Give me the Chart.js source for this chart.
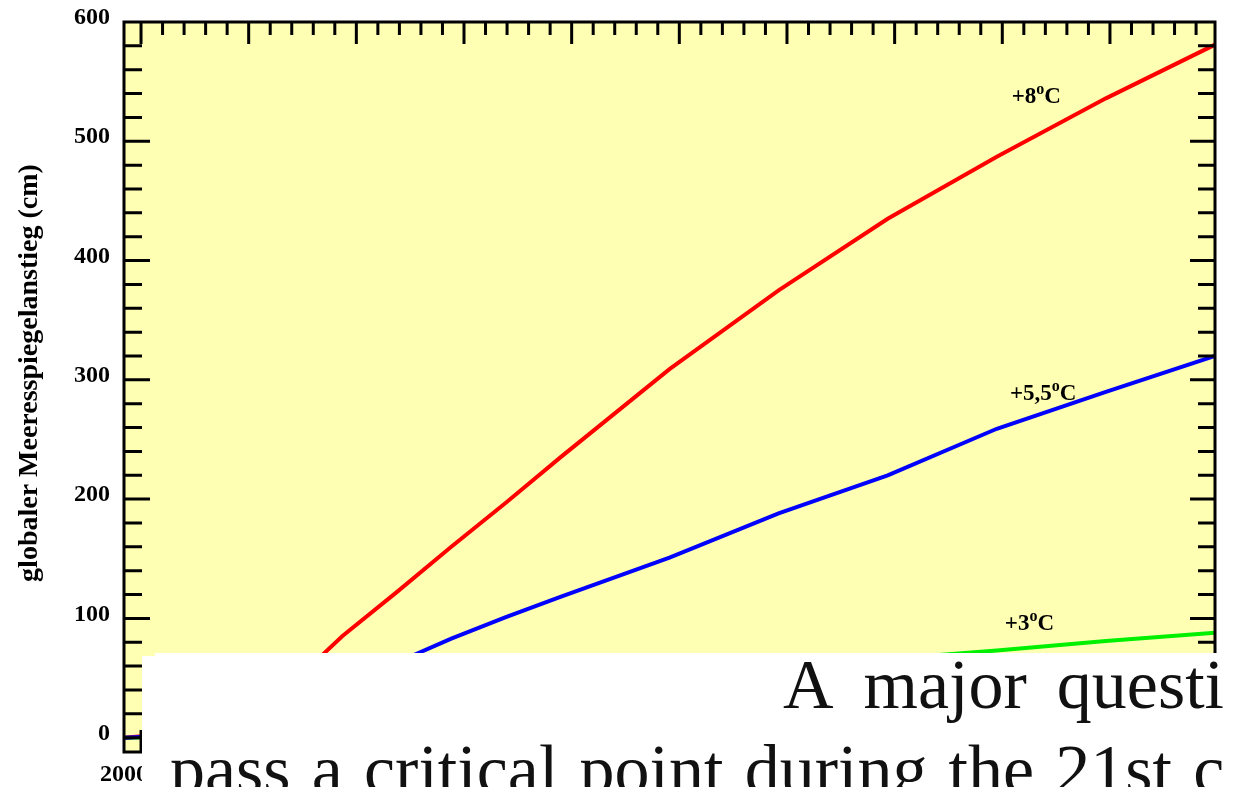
<!DOCTYPE html>
<html>
<head>
<meta charset="utf-8">
<script src="https://cdn.jsdelivr.net/npm/chart.js@4.4.1/dist/chart.umd.min.js"></script>
<style>
  html, body { margin: 0; padding: 0; background: #ffffff; }
  canvas { display: block; }
</style>
</head>
<body>
<canvas id="chart" width="1234" height="787"></canvas>
<script>
// Years and projected global sea-level rise (cm) for three warming scenarios
const years   = [2000, 2025, 2050, 2075, 2100, 2125, 2150, 2175, 2200, 2250, 2300, 2350, 2400, 2450, 2500];
const rise8   = [0,    4,    15,   42,   85,   122,  160,  197,  235,  309,  375,  435,  487,  536,  581];
const rise55  = [0,    2,    8,    22,   42,   63,   83,   101,  118,  151,  188,  220,  259,  290,  320];
const rise3   = [0,    1,    4,    9,    15,   21,   27,   33,   39,   49,   58,   66,   73,   81,   88];

// Axis ticks
const yTickLabels  = [0, 100, 200, 300, 400, 500, 600];
const yMinorStep   = 20;
const xTickLabels  = [2000];
const xTickFirst   = 2007.8;   // first major tick mark on the time axis
const xMajorStep   = 49.34;
const xMinorPerMaj = 5;

// Scenario labels (text, anchor year, anchor value)
const scenarioNames  = ['+8', '+5,5', '+3'];
const scenarioYears  = [2406.8, 2406, 2403.7];
const scenarioValues = [532, 283, 90];

// Caption lines printed below the figure
const captionLine1 = ['A', 'major', 'questi'];
const captionLine2 = ['pass', 'a', 'critical', 'point', 'during', 'the', '21st', 'c'];

const SERIF = '"Liberation Serif", "Times New Roman", serif';

const framePlugin = {
  id: 'frame',
  beforeDraw(chart) {
    const { ctx, chartArea: a } = chart;
    ctx.save();
    ctx.fillStyle = '#ffffb3';
    ctx.fillRect(a.left, a.top, a.right - a.left, a.bottom - a.top);
    ctx.restore();
  },
  afterDatasetsDraw(chart) {
    const { ctx, chartArea: a, scales: { x, y } } = chart;
    ctx.save();
    ctx.strokeStyle = '#000';
    ctx.lineWidth = 3;
    ctx.lineCap = 'butt';
    ctx.beginPath();
    // time axis tick marks, pointing inward from top and bottom edges
    for (let i = 0; ; i++) {
      const v = xTickFirst + i * xMajorStep / xMinorPerMaj;
      const px = x.getPixelForValue(v);
      if (px > a.right - 2) break;
      const len = (i % xMinorPerMaj === 0) ? 22 : 13;
      ctx.moveTo(px, a.top); ctx.lineTo(px, a.top + len);
      ctx.moveTo(px, a.bottom); ctx.lineTo(px, a.bottom - len);
    }
    // value axis tick marks on left and right edges
    for (let v = 0; v < 600; v += yMinorStep) {
      const py = y.getPixelForValue(v);
      const major = v % 100 === 0;
      const lenL = major ? 26 : 18;
      const lenR = major ? 25 : 17;
      ctx.moveTo(a.left, py); ctx.lineTo(a.left + lenL, py);
      ctx.moveTo(a.right, py); ctx.lineTo(a.right - lenR, py);
    }
    ctx.stroke();
    ctx.strokeRect(a.left, a.top, a.right - a.left, a.bottom - a.top);

    // scenario labels with raised degree "o"
    ctx.fillStyle = '#000';
    ctx.textBaseline = 'alphabetic';
    ctx.textAlign = 'left';
    scenarioNames.forEach((name, i) => {
      let px = x.getPixelForValue(scenarioYears[i]);
      const py = y.getPixelForValue(scenarioValues[i]);
      ctx.font = 'bold 23px ' + SERIF;
      ctx.fillText(name, px, py);
      px += ctx.measureText(name).width;
      ctx.font = 'bold 16px ' + SERIF;
      ctx.fillText('o', px, py - 9);
      px += ctx.measureText('o').width;
      ctx.font = 'bold 23px ' + SERIF;
      ctx.fillText('C', px, py);
    });

    // rotated axis title
    ctx.save();
    ctx.translate(37, 373);
    ctx.rotate(-Math.PI / 2);
    ctx.font = 'bold 28px ' + SERIF;
    ctx.textAlign = 'center';
    ctx.fillText('globaler Meeresspiegelanstieg (cm)', 0, 0);
    ctx.restore();
    ctx.restore();
  },
  afterDraw(chart) {
    const { ctx } = chart;
    ctx.save();
    // text block laid over the lower part of the figure
    ctx.fillStyle = '#ffffff';
    ctx.fillRect(142, 656, 1234 - 142, 787 - 656);
    ctx.fillRect(155, 653, 1234 - 155, 787 - 653);
    ctx.fillStyle = '#111';
    ctx.font = '70px ' + SERIF;
    ctx.textBaseline = 'alphabetic';
    ctx.textAlign = 'left';
    const drawWords = (words, x0, baseY, gap) => {
      let px = x0;
      words.forEach(w => {
        ctx.fillText(w, px, baseY);
        px += ctx.measureText(w).width + gap;
      });
    };
    drawWords(captionLine1, 783, 708, 30);
    drawWords(captionLine2, 170, 793, 21.2);
    ctx.restore();
  }
};

const line = (label, data, color) => ({
  label,
  data: years.map((yr, i) => ({ x: yr, y: data[i] })),
  borderColor: color,
  backgroundColor: color,
  borderWidth: 4,
  pointRadius: 0,
  tension: 0,
  fill: false
});

new Chart(document.getElementById('chart'), {
  type: 'line',
  data: {
    datasets: [
      line('+5,5°C', rise55, '#0000ff'),
      line('+8°C', rise8, '#ff0000'),
      line('+3°C', rise3, '#00f000')
    ]
  },
  options: {
    responsive: false,
    animation: false,
    devicePixelRatio: 1,
    layout: { padding: { left: 0, right: 19, top: 22, bottom: 0 } },
    plugins: { legend: { display: false }, tooltip: { enabled: false } },
    scales: {
      x: {
        type: 'linear',
        position: 'bottom',
        min: 2000,
        max: 2500,
        grid: { display: false, drawTicks: false },
        border: { display: false },
        afterBuildTicks: s => { s.ticks = xTickLabels.map(v => ({ value: v })); },
        afterFit: s => { s.height = 35; s.paddingLeft = 0; s.paddingRight = 0; },
        ticks: {
          padding: 8,
          maxRotation: 0,
          color: '#000',
          font: { family: SERIF, size: 24, weight: 'bold' },
          callback: v => String(v)
        }
      },
      y: {
        type: 'linear',
        position: 'left',
        min: -12,
        max: 600,
        grid: { display: false, drawTicks: false },
        border: { display: false },
        afterBuildTicks: s => { s.ticks = yTickLabels.map(v => ({ value: v })); },
        afterFit: s => { s.width = 124; s.paddingTop = 0; s.paddingBottom = 0; },
        ticks: {
          padding: 14,
          labelOffset: -4,
          color: '#000',
          font: { family: SERIF, size: 24, weight: 'bold' },
          callback: v => String(v)
        }
      }
    }
  },
  plugins: [framePlugin]
});
</script>
</body>
</html>
